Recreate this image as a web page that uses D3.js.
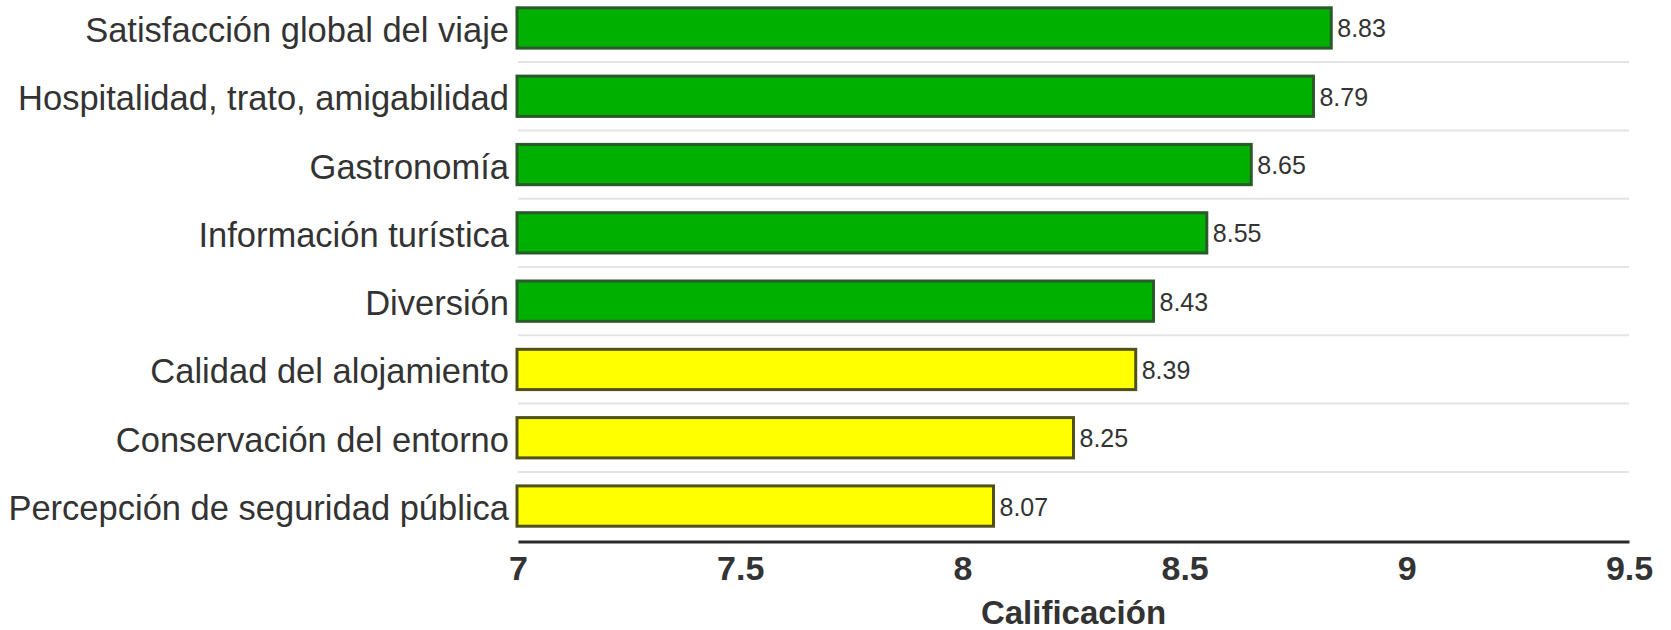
<!DOCTYPE html>
<html>
<head>
<meta charset="utf-8">
<script src="https://cdn.jsdelivr.net/npm/d3@7"></script>
<style>
  html, body { margin: 0; padding: 0; background: #ffffff; }
  svg { display: block; }
  text { font-family: "Liberation Sans", Arial, sans-serif; }
</style>
</head>
<body>
<svg id="chart" width="1671" height="630"></svg>
<script>
const categories = [
  "Satisfacción global del viaje",
  "Hospitalidad, trato, amigabilidad",
  "Gastronomía",
  "Información turística",
  "Diversión",
  "Calidad del alojamiento",
  "Conservación del entorno",
  "Percepción de seguridad pública"
];
const values = [8.83, 8.79, 8.65, 8.55, 8.43, 8.39, 8.25, 8.07];
const groups = ["alto", "alto", "alto", "alto", "alto", "medio", "medio", "medio"];
const tickValues = [7, 7.5, 8, 8.5, 9, 9.5];
const axisTitle = "Calificación";

const fills = { alto: "#00b000", medio: "#ffff00" };
const strokes = { alto: "#2a592a", medio: "#50501a" };

const svg = d3.select("#chart");
const x = d3.scaleLinear().domain([7, 9.5]).range([518, 1629]);
const y = d3.scaleBand().domain(categories).range([-6.2, 540.2])
  .paddingInner(0.41).paddingOuter(0.205);

// gridlines between bands
const gridPos = categories.slice(0, -1).map(c => y(c) + y.bandwidth() + y.step() * y.paddingInner() / 2);
svg.append("g").selectAll("line").data(gridPos).join("line")
  .attr("x1", x(7)).attr("x2", x(9.5))
  .attr("y1", d => d).attr("y2", d => d)
  .attr("stroke", "#e4e4e4").attr("stroke-width", 2);

// bars
svg.append("g").selectAll("rect").data(values).join("rect")
  .attr("x", x(7) - 1)
  .attr("y", (d, i) => y(categories[i]))
  .attr("width", d => x(d) - x(7) + 1)
  .attr("height", y.bandwidth())
  .attr("fill", (d, i) => fills[groups[i]])
  .attr("stroke", (d, i) => strokes[groups[i]])
  .attr("stroke-width", 3);

// value labels
svg.append("g").selectAll("text").data(values).join("text")
  .attr("x", d => x(d) + 6)
  .attr("y", (d, i) => y(categories[i]) + y.bandwidth() / 2 + 9.5)
  .attr("font-size", "25px")
  .attr("fill", "#333")
  .text(d => d3.format(".2f")(d));

// category labels
svg.append("g").selectAll("text").data(categories).join("text")
  .attr("x", 509)
  .attr("y", c => y(c) + y.bandwidth() / 2 + 14)
  .attr("text-anchor", "end")
  .attr("font-size", "34.5px")
  .attr("fill", "#333")
  .text(c => c);

// x axis
const axis = svg.append("g").attr("transform", "translate(0,541.5)")
  .call(d3.axisBottom(x).tickValues(tickValues).tickSize(0).tickPadding(0).tickFormat(d3.format("")));
axis.select(".domain").attr("stroke", "#2a2a2a").attr("stroke-width", 3);
axis.selectAll(".tick text")
  .attr("y", 38.5).attr("dy", null)
  .attr("font-size", "34px")
  .attr("font-weight", "bold")
  .attr("font-family", "\"Liberation Sans\", Arial, sans-serif")
  .attr("fill", "#333");

svg.append("text")
  .attr("x", (x(7) + x(9.5)) / 2)
  .attr("y", 624)
  .attr("text-anchor", "middle")
  .attr("font-size", "33px")
  .attr("font-weight", "bold")
  .attr("fill", "#333")
  .text(axisTitle);
</script>
</body>
</html>
